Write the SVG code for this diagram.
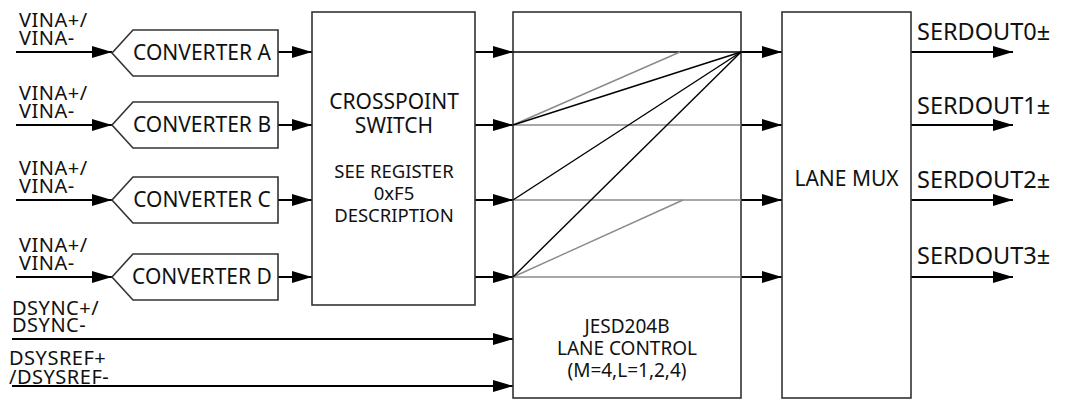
<svg xmlns="http://www.w3.org/2000/svg" width="1066" height="401" viewBox="0 0 1066 401">
<defs>
<marker id="ah" markerWidth="20" markerHeight="12" refX="20" refY="6" orient="auto" markerUnits="userSpaceOnUse"><path d="M0,0 L20,6 L0,12 z" fill="#000"/></marker>
<style>
.box{fill:#fff;stroke:#333;stroke-width:1.6}
.t{font-family:"Noto Sans","Open Sans",sans-serif;fill:#111}
.lbl{font-size:20px;letter-spacing:0.5px}
.cv{font-size:21px;text-anchor:middle}
.ctr{text-anchor:middle}
.so{font-size:23.5px}
.a{stroke:#000;stroke-width:1.8;fill:none;marker-end:url(#ah)}
.blk{stroke:#000;stroke-width:1.4;fill:none}
.gry{stroke:#8a8a8a;stroke-width:1.4;fill:none}
</style>
</defs>
<rect width="1066" height="401" fill="#fff"/>
<g id="connectors">
<line class="a" x1="16" y1="52" x2="112" y2="52"/>
<line class="a" x1="16" y1="125" x2="112" y2="125"/>
<line class="a" x1="16" y1="200" x2="112" y2="200"/>
<line class="a" x1="16" y1="277" x2="112" y2="277"/>
<line class="a" x1="278" y1="52" x2="312" y2="52"/>
<line class="a" x1="278" y1="125" x2="312" y2="125"/>
<line class="a" x1="278" y1="200" x2="312" y2="200"/>
<line class="a" x1="278" y1="277" x2="312" y2="277"/>
<line class="a" x1="475" y1="52" x2="513" y2="52"/>
<line class="a" x1="475" y1="125" x2="513" y2="125"/>
<line class="a" x1="475" y1="200" x2="513" y2="200"/>
<line class="a" x1="475" y1="277" x2="513" y2="277"/>
<line class="a" x1="741" y1="52" x2="782" y2="52"/>
<line class="a" x1="741" y1="125" x2="782" y2="125"/>
<line class="a" x1="741" y1="200" x2="782" y2="200"/>
<line class="a" x1="741" y1="277" x2="782" y2="277"/>
<line class="a" x1="911" y1="52" x2="1013" y2="52"/>
<line class="a" x1="911" y1="125" x2="1013" y2="125"/>
<line class="a" x1="911" y1="200" x2="1013" y2="200"/>
<line class="a" x1="911" y1="277" x2="1013" y2="277"/>
<line class="a" x1="12" y1="339" x2="513" y2="339"/>
<line class="a" x1="12" y1="386" x2="513" y2="386"/>
</g>
<g id="converter-a"><path class="box" d="M112,53 L133,30 L278,30 L278,76 L133,76 Z"/><text class="t cv" x="202" y="60">CONVERTER A</text></g>
<g id="converter-b"><path class="box" d="M112,125 L133,102 L278,102 L278,148 L133,148 Z"/><text class="t cv" x="202" y="132">CONVERTER B</text></g>
<g id="converter-c"><path class="box" d="M112,200 L133,177 L278,177 L278,223 L133,223 Z"/><text class="t cv" x="202" y="207">CONVERTER C</text></g>
<g id="converter-d"><path class="box" d="M112,277 L133,254 L278,254 L278,300 L133,300 Z"/><text class="t cv" x="202" y="284">CONVERTER D</text></g>
<g id="crosspoint">
<rect class="box" x="312" y="12" width="163" height="293"/>
<text class="t ctr" x="394" y="109" font-size="21"><tspan x="394">CROSSPOINT</tspan><tspan x="394" dy="24">SWITCH</tspan></text>
<text class="t ctr" x="394" y="178" font-size="18.5"><tspan x="394">SEE REGISTER</tspan><tspan x="394" dy="22">0xF5</tspan><tspan x="394" dy="22">DESCRIPTION</tspan></text>
</g>
<g id="jesd204b">
<rect class="box" x="513" y="12" width="228" height="386"/>
<line class="blk" x1="513" y1="52" x2="741" y2="52"/>
<line class="gry" x1="513" y1="125" x2="741" y2="125"/>
<line class="gry" x1="513" y1="200" x2="741" y2="200"/>
<line class="gry" x1="513" y1="277" x2="741" y2="277"/>
<line class="gry" x1="513" y1="125" x2="680" y2="52"/>
<line class="gry" x1="513" y1="277" x2="683" y2="200"/>
<line class="blk" x1="513" y1="125" x2="741" y2="52"/>
<line class="blk" x1="513" y1="200" x2="741" y2="52"/>
<line class="blk" x1="513" y1="277" x2="741" y2="52"/>
<text class="t ctr" x="627" y="333" font-size="19"><tspan x="627">JESD204B</tspan><tspan x="627" dy="22">LANE CONTROL</tspan><tspan x="627" dy="22">(M=4,L=1,2,4)</tspan></text>
</g>
<g id="lane-mux">
<rect class="box" x="782" y="12" width="129" height="386"/>
<text class="t ctr" x="846.5" y="186" font-size="21">LANE MUX</text>
</g>
<g id="labels">
<text class="t lbl" x="19" y="27"><tspan x="19">VINA+/</tspan><tspan x="19" dy="18">VINA-</tspan></text>
<text class="t lbl" x="19" y="100"><tspan x="19">VINA+/</tspan><tspan x="19" dy="18">VINA-</tspan></text>
<text class="t lbl" x="19" y="175"><tspan x="19">VINA+/</tspan><tspan x="19" dy="18">VINA-</tspan></text>
<text class="t lbl" x="19" y="252"><tspan x="19">VINA+/</tspan><tspan x="19" dy="18">VINA-</tspan></text>
<text class="t lbl" x="12" y="315"><tspan x="12">DSYNC+/</tspan><tspan x="12" dy="17">DSYNC-</tspan></text>
<text class="t lbl" x="9" y="365"><tspan x="9">DSYSREF+</tspan><tspan x="9" dy="19">/DSYSREF-</tspan></text>
<text class="t so" x="917" y="40">SERDOUT0±</text>
<text class="t so" x="917" y="114">SERDOUT1±</text>
<text class="t so" x="917" y="188">SERDOUT2±</text>
<text class="t so" x="917" y="264">SERDOUT3±</text>
</g>
</svg>
